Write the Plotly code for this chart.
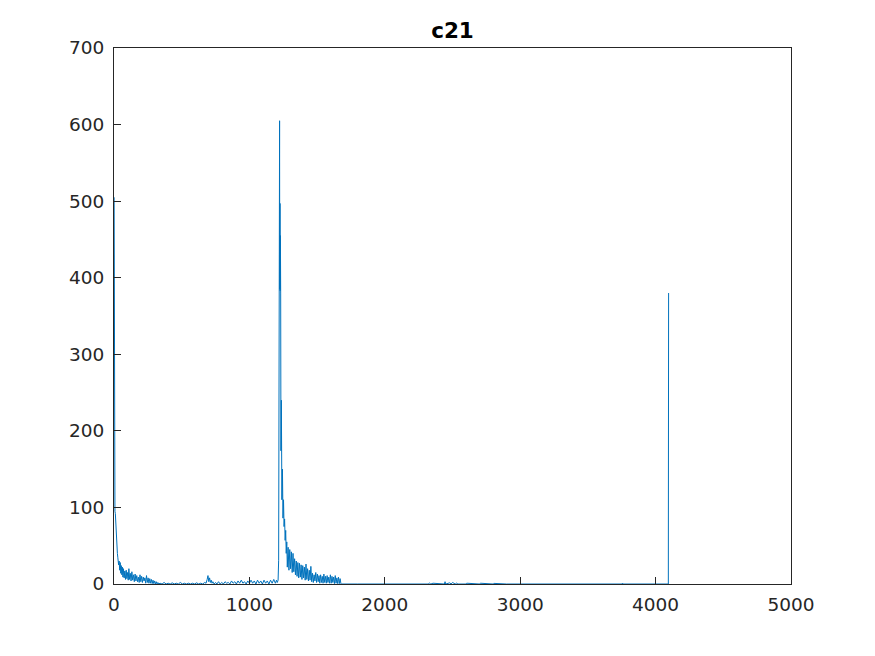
import plotly.graph_objects as go

# --- data ---
x_decay = [1, 2, 4, 7, 10, 13, 16, 19, 22, 25, 28, 31, 34, 38, 42, 46, 50, 54, 58, 62, 66, 70, 75, 80, 85, 90, 95,
           100, 105, 110, 115, 120, 126, 132, 138, 144, 150, 156, 162, 168, 174, 180, 186, 192, 198, 204, 210, 216,
           222, 228, 234, 240, 246, 252, 258, 264, 270, 276, 282, 288, 294, 300, 306, 312, 318, 324, 330]
y_decay = [505, 205, 120, 95, 92, 80, 60, 55, 45, 40, 35, 32, 25, 30, 18, 28, 14, 24, 12, 22, 9, 20, 8, 17, 6, 18, 7,
           15, 5, 20, 6, 14, 4, 16, 5, 12, 3, 13, 4, 11, 3, 9, 2, 12, 3, 10, 2, 9, 4, 8, 1, 11, 2, 8, 1, 7, 1, 6, 0.5,
           5, 0.5, 4, 0, 3, 0, 2, 0]

x_flat = [340, 355, 370, 385, 400, 415, 430, 445, 460, 475, 490, 505, 520, 535, 550, 565, 580, 595, 610, 625, 640,
          655, 670, 680, 688, 694, 700, 706, 712, 718, 724, 730, 740, 750, 760, 772, 784, 796, 808, 820, 832, 844,
          856, 868, 880, 892, 904, 916, 928, 940, 952, 964, 976, 988, 1000, 1012, 1024, 1036, 1048, 1060, 1072,
          1084, 1096, 1108, 1120, 1132, 1144, 1156, 1168, 1180, 1192, 1200, 1206]
y_flat = [1, 0, 2, 0, 1, 0, 1.5, 0, 1, 0, 2, 0, 1, 0, 1, 0, 1, 0, 1.5, 0, 1, 0, 2, 1, 6, 11, 3, 8, 2, 5, 1, 3, 0, 2,
          0, 3, 0, 2, 0, 3, 1, 2, 0, 4, 1, 3, 0, 4, 1, 5, 1, 3, 0, 4, 1, 5, 1, 4, 0, 5, 1, 4, 0, 5, 1, 4, 0, 5, 1,
          6, 1, 5, 2]

x_peak = [1212, 1216, 1218, 1219, 1220, 1221, 1222, 1223, 1224, 1226, 1227, 1229, 1231, 1233, 1236, 1240, 1244,
          1248, 1252, 1256, 1260, 1264, 1268, 1272, 1276]
y_peak = [5, 31, 497, 383, 497, 385, 495, 605, 385, 497, 383, 455, 380, 174, 240, 110, 150, 86, 110, 75, 85, 57,
          70, 40, 55]

x_tail = [1280, 1286, 1292, 1298, 1304, 1310, 1316, 1322, 1328, 1334, 1340, 1346, 1352, 1358, 1364, 1370, 1376,
          1382, 1388, 1394, 1400, 1406, 1412, 1418, 1424, 1430, 1436, 1442, 1448, 1454, 1460, 1466, 1472, 1478,
          1484, 1490, 1496, 1502, 1508, 1514, 1520, 1526, 1532, 1538, 1544, 1550, 1556, 1562, 1568, 1574, 1580,
          1586, 1592, 1598, 1604, 1610, 1616, 1622, 1628, 1634, 1640, 1646, 1652, 1658, 1664, 1670, 1676, 1680]
y_tail = [22, 48, 18, 45, 20, 42, 15, 40, 16, 33, 12, 30, 10, 28, 8, 27, 9, 25, 6, 24, 8, 22, 5, 26, 6, 20, 4, 18,
          5, 23, 3, 14, 2, 12, 4, 15, 2, 13, 3, 11, 1, 12, 2, 10, 1, 13, 2, 10, 1, 11, 2, 9, 1, 12, 1, 10, 2, 9,
          0.5, 11, 1, 8, 0.5, 9, 0.5, 7, 0.3, 0]

x_end = [1800, 2000, 2200, 2320, 2330, 2340, 2356, 2440, 2445, 2450, 2480, 2490, 2500, 2520, 2530, 2540, 2600,
         2605, 2700, 2705, 2800, 2805, 2900, 3752, 3756, 3760, 4094, 4096]
y_end = [0, 0.3, 0, 0, 1.2, 0, 1, 0, 3, 0, 1.5, 0, 2, 0, 1.2, 0, 0, 1, 0, 1, 0, 0.8, 0, 0, 1, 0, 0, 380]

x_all = x_decay + x_flat + x_peak + x_tail + x_end
y_all = y_decay + y_flat + y_peak + y_tail + y_end

x_ticks = [0, 1000, 2000, 3000, 4000, 5000]
y_ticks = [0, 100, 200, 300, 400, 500, 600, 700]

fig = go.Figure()
fig.add_trace(go.Scatter(x=x_all, y=y_all, mode="lines",
                         line=dict(color="#0072BD", width=1), showlegend=False))

axis_common = dict(showline=True, linecolor="#262626", linewidth=1, mirror=True,
                   ticks="inside", ticklen=7, tickcolor="#262626", tickwidth=1,
                   showgrid=False, zeroline=False,
                   tickfont=dict(family="DejaVu Sans", size=18.5, color="#262626"))

fig.update_layout(
    width=875, height=656,
    margin=dict(l=106, r=92, t=40, b=80),
    paper_bgcolor="white", plot_bgcolor="white",
    title=dict(text="<b>c21</b>", x=0.5, xref="paper", xanchor="center",
               y=1 - 22.5 / 656, yref="container", yanchor="middle",
               font=dict(family="DejaVu Sans", size=21.5, color="black")),
    xaxis=dict(range=[0, 5000], tickvals=x_ticks, ticklabelstandoff=4, **axis_common),
    yaxis=dict(range=[0, 700], tickvals=y_ticks, ticklabelstandoff=5, **axis_common),
)

fig.write_html("out.html")
